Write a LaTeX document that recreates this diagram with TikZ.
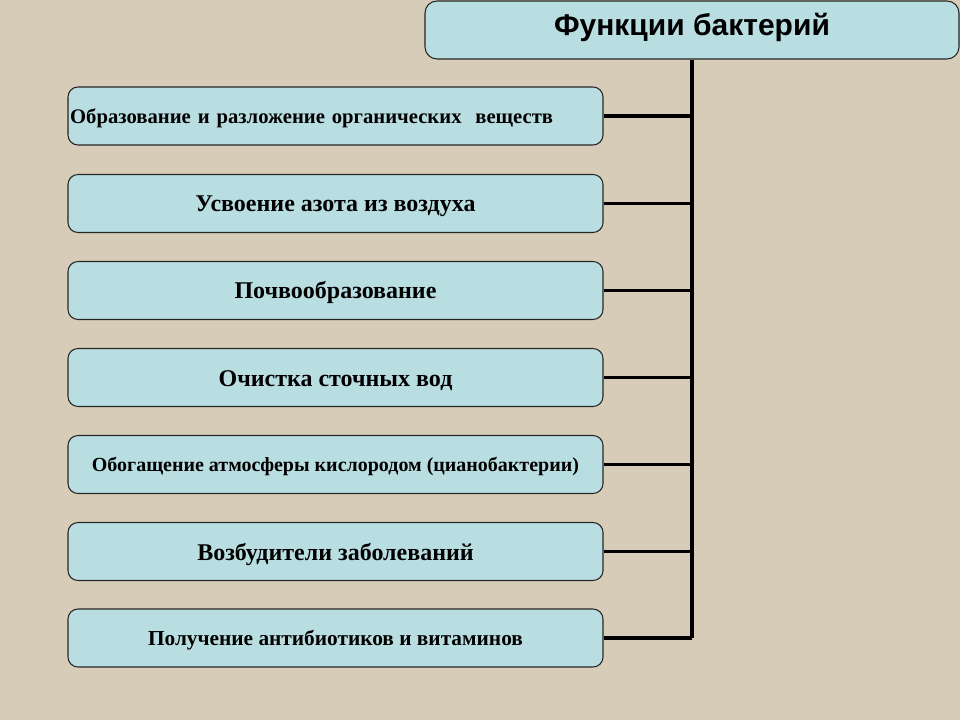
\documentclass[tikz,border=0pt]{standalone}
\usepackage{fontspec}
\setmainfont{Liberation Serif}
\newfontfamily\titlefont{Liberation Sans}
\definecolor{bgbeige}{HTML}{D7CCB8}
\definecolor{boxblue}{HTML}{B9DEE2}
\tikzset{
  fbox/.style={draw=black!85, line width=0.8pt, fill=boxblue, rounded corners=7.5pt,
    minimum width=401.25pt, minimum height=43.5pt, inner xsep=1.5pt, inner ysep=0pt,
    text height=12.75pt, text depth=0pt,
    font=\bfseries\fontsize{18}{20}\selectfont},
  smalltext/.style={text height=#1, text depth=0pt},
  titlebox/.style={draw=black!85, line width=0.8pt, fill=boxblue, rounded corners=9pt,
    minimum width=400.5pt, minimum height=43.5pt, inner sep=0pt,
    text height=16.5pt, text depth=7.5pt,
    font=\titlefont\bfseries\fontsize{22.5}{24}\selectfont},
  link/.style={line width=2.4pt, black}
}
\begin{document}
\begin{tikzpicture}[x=0.75pt,y=-0.75pt]
\fill[bgbeige] (0,0) rectangle (960,720);
\useasboundingbox (0,0) rectangle (960,720);
\node[titlebox] (title) at (692,30) {Функции бактерий};
\node[fbox, text width=398pt, align=left, smalltext=11pt, font=\bfseries\fontsize{15.5}{17}\selectfont] (b1) at (335.5,116) {Образование и разложение органических\ \ веществ};
\node[fbox] (b2) at (335.5,203.5) {Усвоение азота из воздуха};
\node[fbox] (b3) at (335.5,290.5) {Почвообразование};
\node[fbox] (b4) at (335.5,377.5) {Очистка сточных вод};
\node[fbox, smalltext=10.6pt, font=\bfseries\fontsize{15}{17}\selectfont] (b5) at (335.5,464.5) {Обогащение атмосферы кислородом (цианобактерии)};
\node[fbox] (b6) at (335.5,551.5) {Возбудители заболеваний};
\node[fbox, smalltext=11.4pt, font=\bfseries\fontsize{16}{18}\selectfont] (b7) at (335.5,638) {Получение антибиотиков и витаминов};
\coordinate (vend) at (692,638);
\draw[link] (title.south) -- (vend);
\foreach \b in {b1,b2,b3,b4,b5,b6,b7}{
  \draw[link] (\b.east) -- (\b.east -| title.south);
}
\end{tikzpicture}
\end{document}
